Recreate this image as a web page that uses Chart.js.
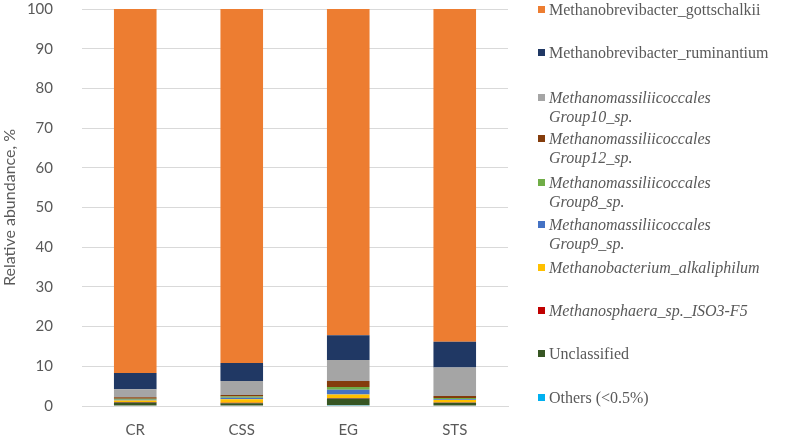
<!DOCTYPE html>
<html>
<head>
<meta charset="utf-8">
<script src="https://cdn.jsdelivr.net/npm/chart.js@4/dist/chart.umd.min.js"></script>
<style>
  html, body { margin: 0; padding: 0; background: #fff; }
  #wrap { position: relative; width: 789px; height: 440px; overflow: hidden; }
  #chartBox { position: absolute; left: 0; top: 0; width: 520px; height: 440px; }
  #legend { position: absolute; left: 0; top: 0; width: 789px; height: 440px; pointer-events: none;
            font-family: "Liberation Serif", "Times New Roman", serif; font-size: 16px; color: #595959; }
  .item { position: absolute; left: 538px; line-height: 19px; white-space: nowrap; }
  .mk { position: absolute; left: 0; top: 6px; width: 7px; height: 7px; }
  .txt { position: absolute; left: 11px; top: 0; }
  .it { font-style: italic; }
</style>
</head>
<body>
<div id="wrap">
  <div id="chartBox"><canvas id="c"></canvas></div>
  <div id="legend"></div>
</div>
<script>
// ---- data ----
const categories = ['CR', 'CSS', 'EG', 'STS'];
const yTicks = [0, 10, 20, 30, 40, 50, 60, 70, 80, 90, 100];

// series, bottom of stack first
const others        = [0.1, 0.1, 0.2, 0.1];
const unclassified  = [0.8, 0.6, 1.7, 0.7];
const methanosphaera = [0.1, 0.1, 0.1, 0.1];
const alkaliphilum  = [0.4, 0.9, 0.9, 0.6];
const group9        = [0.2, 0.4, 1.2, 0.2];
const group8        = [0.2, 0.3, 0.7, 0.3];
const group12       = [0.4, 0.4, 1.5, 0.5];
const group10       = [2.0, 3.5, 5.3, 7.2];
const ruminantium   = [4.1, 4.5, 6.2, 6.5];
const gottschalkii  = [91.7, 89.2, 82.2, 83.8];

const seriesNames = [
  'Others (<0.5%)',
  'Unclassified',
  'Methanosphaera_sp._ISO3-F5',
  'Methanobacterium_alkaliphilum',
  'Methanomassiliicoccales Group9_sp.',
  'Methanomassiliicoccales Group8_sp.',
  'Methanomassiliicoccales Group12_sp.',
  'Methanomassiliicoccales Group10_sp.',
  'Methanobrevibacter_ruminantium',
  'Methanobrevibacter_gottschalkii'
];
const seriesValues = [others, unclassified, methanosphaera, alkaliphilum, group9, group8, group12, group10, ruminantium, gottschalkii];

// ---- styles ----
const seriesColors = ['#00B0F0', '#375623', '#C00000', '#FFC000', '#4472C4', '#70AD47', '#843C0C', '#A5A5A5', '#203864', '#ED7D31'];
const seriesItalic = [false, false, true, true, true, true, true, true, false, false];
// legend first-line centre (px), in the order of seriesNames
const legendY = [397, 353, 310, 267, 224, 182, 138, 97, 52, 9];

const datasets = seriesNames.map((n, i) => ({
  label: n,
  data: seriesValues[i],
  backgroundColor: seriesColors[i],
  borderWidth: 0,
  barPercentage: 0.4,
  categoryPercentage: 1.0
}));

new Chart(document.getElementById('c'), {
  type: 'bar',
  data: { labels: categories, datasets },
  options: {
    responsive: true,
    maintainAspectRatio: false,
    animation: false,
    layout: { padding: { top: 9, right: 12, left: 0, bottom: 0 } },
    plugins: { legend: { display: false }, tooltip: { enabled: false } },
    scales: {
      x: {
        stacked: true,
        grid: { display: false, drawTicks: false },
        border: { color: '#D9D9D9', width: 1 },
        ticks: { color: '#595959', font: { family: 'Lato', size: 15 }, padding: 15 },
        afterFit: s => { s.height = 34; }
      },
      y: {
        stacked: true,
        min: 0, max: 100,
        afterBuildTicks: s => { s.ticks = yTicks.map(v => ({ value: v })); },
        grid: { color: '#D9D9D9', lineWidth: 1, drawTicks: true, tickLength: 29, tickColor: 'rgba(0,0,0,0)' },
        border: { display: false },
        ticks: { color: '#595959', font: { family: 'Lato', size: 15 }, padding: 0 },
        title: { display: true, text: 'Relative abundance, %', color: '#595959',
                 font: { family: 'Lato', size: 16 }, padding: { top: 0, bottom: 0 } },
        afterFit: s => { s.width = 82; }
      }
    }
  }
});

// ---- legend (HTML, reversed like the reference) ----
const lg = document.getElementById('legend');
for (let i = seriesNames.length - 1; i >= 0; i--) {
  const d = document.createElement('div');
  d.className = 'item';
  d.style.top = (legendY[i] - 9.5) + 'px';
  const m = document.createElement('div');
  m.className = 'mk';
  m.style.background = seriesColors[i];
  const t = document.createElement('div');
  t.className = 'txt' + (seriesItalic[i] ? ' it' : '');
  const name = seriesNames[i];
  if (name.startsWith('Methanomassiliicoccales ')) {
    t.innerHTML = 'Methanomassiliicoccales<br>' + name.split(' ')[1];
  } else {
    t.textContent = name;
  }
  d.appendChild(m); d.appendChild(t);
  lg.appendChild(d);
}
</script>
</body>
</html>
